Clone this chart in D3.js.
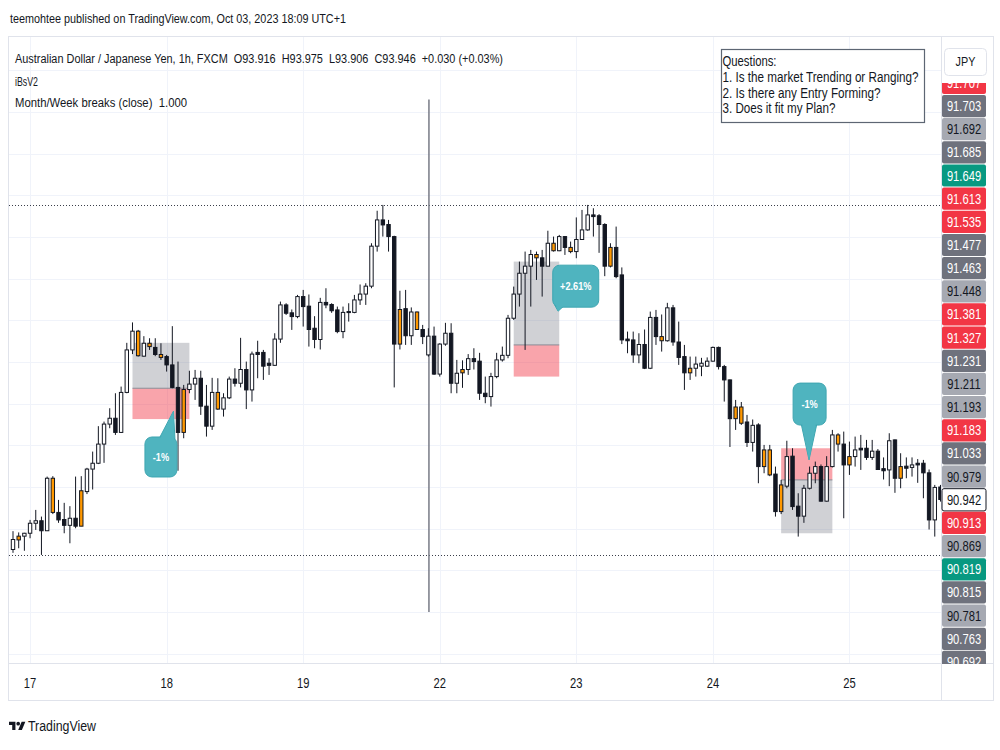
<!DOCTYPE html>
<html>
<head>
<meta charset="utf-8">
<script src="https://cdn.jsdelivr.net/npm/d3@7"></script>
<style>
body { margin: 0; background: #fff; }
svg { display: block; font-family: "Liberation Sans", Arial, sans-serif; }
text { white-space: pre; }
</style>
</head>
<body>
<svg id="chart" width="1000" height="750"></svg>
<script>
// hourly candles, [open, high, low, close]
const ohlc = [
  [90.850, 90.894, 90.842, 90.874], [90.882, 90.891, 90.853, 90.873], [90.882, 90.890, 90.847, 90.889],
  [90.889, 90.921, 90.877, 90.913], [90.913, 90.945, 90.897, 90.919], [90.919, 90.929, 90.837, 90.895],
  [90.895, 91.025, 90.895, 91.021], [91.021, 91.026, 90.935, 90.939], [90.939, 90.969, 90.914, 90.921],
  [90.922, 90.962, 90.889, 90.908], [90.908, 90.954, 90.865, 90.925], [90.925, 91.025, 90.901, 90.906],
  [90.906, 91.026, 90.906, 90.991], [90.989, 91.046, 90.983, 91.043], [91.043, 91.085, 90.994, 91.057],
  [91.057, 91.146, 91.055, 91.103], [91.103, 91.157, 91.058, 91.151], [91.151, 91.189, 91.141, 91.165],
  [91.165, 91.225, 91.125, 91.131], [91.131, 91.241, 91.130, 91.227], [91.227, 91.346, 91.225, 91.329],
  [91.329, 91.395, 91.319, 91.374], [91.374, 91.377, 91.313, 91.315], [91.314, 91.362, 91.313, 91.345],
  [91.345, 91.357, 91.329, 91.337], [91.335, 91.357, 91.314, 91.318], [91.318, 91.345, 91.305, 91.311],
  [91.313, 91.317, 91.277, 91.293], [91.293, 91.386, 91.237, 91.239], [91.239, 91.301, 91.039, 91.131],
  [91.131, 91.245, 91.117, 91.234], [91.234, 91.279, 91.225, 91.247], [91.247, 91.281, 91.209, 91.261],
  [91.261, 91.279, 91.173, 91.194], [91.194, 91.245, 91.121, 91.146], [91.146, 91.262, 91.137, 91.227],
  [91.227, 91.261, 91.185, 91.187], [91.187, 91.225, 91.169, 91.214], [91.214, 91.265, 91.211, 91.259],
  [91.259, 91.285, 91.241, 91.249], [91.249, 91.358, 91.239, 91.282], [91.282, 91.301, 91.187, 91.233],
  [91.233, 91.325, 91.205, 91.319], [91.323, 91.351, 91.261, 91.318], [91.323, 91.329, 91.257, 91.290],
  [91.297, 91.309, 91.269, 91.292], [91.292, 91.369, 91.291, 91.355], [91.355, 91.445, 91.346, 91.437],
  [91.437, 91.441, 91.413, 91.417], [91.418, 91.426, 91.377, 91.409], [91.409, 91.461, 91.405, 91.457],
  [91.457, 91.473, 91.385, 91.433], [91.434, 91.462, 91.337, 91.378], [91.381, 91.410, 91.333, 91.354],
  [91.354, 91.454, 91.330, 91.443], [91.443, 91.477, 91.429, 91.437], [91.438, 91.441, 91.418, 91.423],
  [91.425, 91.433, 91.369, 91.373], [91.373, 91.433, 91.357, 91.419], [91.421, 91.441, 91.397, 91.419],
  [91.419, 91.461, 91.417, 91.449], [91.449, 91.486, 91.437, 91.463], [91.463, 91.489, 91.437, 91.482],
  [91.482, 91.585, 91.477, 91.578], [91.578, 91.663, 91.565, 91.641], [91.641, 91.677, 91.601, 91.629],
  [91.630, 91.641, 91.565, 91.601], [91.601, 91.603, 91.239, 91.343], [91.343, 91.471, 91.330, 91.426],
  [91.428, 91.473, 91.341, 91.363], [91.363, 91.431, 91.341, 91.420], [91.420, 91.421, 91.377, 91.378],
  [91.378, 91.389, 91.343, 91.361], [91.317, 91.381, 91.313, 91.362], [91.362, 91.385, 91.269, 91.271],
  [91.271, 91.345, 91.265, 91.343], [91.343, 91.394, 91.339, 91.369], [91.369, 91.393, 91.225, 91.249],
  [91.249, 91.305, 91.225, 91.273], [91.274, 91.304, 91.238, 91.282], [91.282, 91.319, 91.269, 91.308],
  [91.308, 91.333, 91.282, 91.301], [91.302, 91.322, 91.209, 91.225], [91.225, 91.265, 91.201, 91.217],
  [91.217, 91.274, 91.193, 91.265], [91.265, 91.322, 91.261, 91.305], [91.305, 91.337, 91.301, 91.316],
  [91.316, 91.413, 91.309, 91.405], [91.405, 91.481, 91.401, 91.463], [91.463, 91.541, 91.433, 91.513],
  [91.513, 91.565, 91.329, 91.530], [91.530, 91.569, 91.433, 91.558], [91.558, 91.565, 91.497, 91.550],
  [91.550, 91.569, 91.457, 91.530], [91.530, 91.615, 91.530, 91.585], [91.585, 91.601, 91.565, 91.567],
  [91.567, 91.605, 91.566, 91.601], [91.601, 91.602, 91.557, 91.575], [91.575, 91.589, 91.561, 91.565],
  [91.565, 91.647, 91.549, 91.594], [91.594, 91.665, 91.593, 91.617], [91.617, 91.677, 91.615, 91.653],
  [91.653, 91.669, 91.601, 91.649], [91.651, 91.655, 91.562, 91.630], [91.630, 91.633, 91.506, 91.530],
  [91.530, 91.585, 91.527, 91.575], [91.575, 91.625, 91.501, 91.505], [91.509, 91.527, 91.343, 91.353],
  [91.355, 91.373, 91.321, 91.351], [91.353, 91.373, 91.298, 91.317], [91.317, 91.369, 91.297, 91.342],
  [91.342, 91.378, 91.283, 91.285], [91.285, 91.421, 91.283, 91.407], [91.407, 91.425, 91.341, 91.361],
  [91.361, 91.414, 91.325, 91.351], [91.351, 91.442, 91.349, 91.430], [91.430, 91.437, 91.339, 91.348],
  [91.348, 91.397, 91.293, 91.311], [91.313, 91.341, 91.233, 91.274], [91.274, 91.313, 91.257, 91.285],
  [91.285, 91.313, 91.265, 91.295], [91.290, 91.310, 91.266, 91.297], [91.290, 91.311, 91.288, 91.302],
  [91.302, 91.337, 91.301, 91.335], [91.335, 91.337, 91.282, 91.289], [91.289, 91.293, 91.205, 91.257],
  [91.257, 91.258, 91.096, 91.164], [91.164, 91.209, 91.137, 91.192], [91.192, 91.204, 91.149, 91.153],
  [91.156, 91.173, 91.096, 91.107], [91.107, 91.162, 91.085, 91.148], [91.149, 91.153, 91.009, 91.049],
  [91.049, 91.101, 91.033, 91.089], [91.089, 91.101, 91.026, 91.029], [91.031, 91.049, 90.929, 90.941],
  [90.941, 91.017, 90.935, 91.005], [91.002, 91.111, 90.997, 91.073], [91.074, 91.093, 90.945, 90.953],
  [90.954, 90.985, 90.881, 90.930], [90.930, 91.005, 90.914, 90.997], [90.997, 91.049, 90.994, 91.033],
  [91.033, 91.061, 91.009, 91.049], [91.049, 91.054, 90.965, 90.966], [90.966, 91.074, 90.965, 91.049],
  [91.049, 91.137, 91.047, 91.125], [91.125, 91.129, 91.085, 91.103], [91.103, 91.133, 90.925, 91.053],
  [91.053, 91.109, 91.029, 91.073], [91.073, 91.121, 91.049, 91.089], [91.093, 91.125, 91.041, 91.089],
  [91.093, 91.113, 91.065, 91.071], [91.071, 91.113, 91.065, 91.086], [91.086, 91.091, 91.041, 91.042],
  [91.044, 91.071, 91.018, 91.039], [91.041, 91.129, 91.002, 91.111], [91.113, 91.114, 90.986, 91.021],
  [91.021, 91.081, 90.997, 91.049], [91.050, 91.071, 91.021, 91.045], [91.047, 91.071, 91.025, 91.053],
  [91.057, 91.067, 91.010, 91.053], [91.057, 91.065, 90.973, 91.034], [91.034, 91.042, 90.898, 90.921],
  [90.921, 91.005, 90.881, 90.999], [91.000, 91.005, 90.965, 90.970]
];

// bars flagged by iBsV2 (orange)
const insideBars = [1, 7, 12, 22, 24, 26, 30, 36, 68, 71, 79, 92, 95, 98, 105, 114, 119, 127, 128, 132, 133, 135, 145, 147, 156];

// day ticks (bar index) and their labels
const dayTicks = [3, 27, 51, 75, 99, 123, 147];
const dayLabels = ["17", "18", "19", "22", "23", "24", "25"];

// week break
const weekBreakIndex = 73.1;
const weekBreakRange = [90.70, 91.93];
const breakLevels = [91.677, 90.837];

// position tools: start bar, end bar, top, entry, bottom
const posStart = [21, 88, 135];
const posEnd = [31, 96, 144];
const posTop = [91.346, 91.541, 91.093];
const posEntry = [91.237, 91.341, 91.017];
const posBottom = [91.163, 91.265, 90.889];
const posSide = ["long", "long", "short"];

// callouts
const calloutText = ["-1%", "+2.61%", "-1%"];
const calloutAt = [[26.0, 91.072], [98.9, 91.482], [140.0, 91.199]];
const calloutTip = [[28.2, 91.182], [95.8, 91.422], [139.9, 91.065]];

// price scale labels (stacked)
const axisValues = ["91.707", "91.703", "91.692", "91.685", "91.649", "91.613", "91.535", "91.477", "91.463",
  "91.448", "91.381", "91.327", "91.231", "91.211", "91.193", "91.183", "91.033", "90.979", "90.942",
  "90.913", "90.869", "90.819", "90.815", "90.781", "90.763", "90.692"];
const axisKinds = ["r", "d", "l", "d", "g", "r", "r", "d", "d", "l", "r", "r", "d", "l", "l", "r", "d", "l", "w",
  "r", "l", "g", "d", "l", "d", "d"];

const questions = ["Questions:", "1. Is the market Trending or Ranging?", "2. Is there any Entry Forming?", "3. Does it fit my Plan?"];

// ---------------------------------------------------------------
const svg = d3.select("#chart");
const ink = "#131722";
const plot = { left: 9, right: 941, top: 37, bottom: 663 };

const x = d3.scaleLinear().domain([0, ohlc.length - 1]).range([13, 13 + 5.69 * (ohlc.length - 1)]);
const y = d3.scaleLinear().domain([91, 92]).range([487, 70.33]);

const defs = svg.append("defs");
defs.append("clipPath").attr("id", "plotClip")
  .append("rect").attr("x", plot.left).attr("y", plot.top)
  .attr("width", plot.right - plot.left).attr("height", plot.bottom - plot.top);
defs.append("clipPath").attr("id", "labelClip")
  .append("rect").attr("x", 941).attr("y", 83).attr("width", 52).attr("height", 581);

function squeezed(g, px, py, str, size, anchor, fill, weight) {
  return g.append("text")
    .attr("transform", `translate(${px},${py}) scale(0.8,1)`)
    .attr("text-anchor", anchor || "start")
    .attr("font-size", size)
    .attr("font-weight", weight || "normal")
    .attr("fill", fill || ink)
    .text(str);
}

function fitted(g, px, py, str, size, len) {
  return g.append("text")
    .attr("x", px).attr("y", py)
    .attr("font-size", size)
    .attr("fill", ink)
    .attr("textLength", len)
    .attr("lengthAdjust", "spacingAndGlyphs")
    .text(str);
}

// header
fitted(svg, 10, 23, "teemohtee published on TradingView.com, Oct 03, 2023 18:09 UTC+1", 13.5, 336);

// frame
svg.append("rect").attr("x", 8.5).attr("y", 36.5).attr("width", 985).attr("height", 664)
  .attr("fill", "#fff").attr("stroke", "#e0e3eb");

// grid
const grid = svg.append("g").attr("clip-path", "url(#plotClip)");
grid.selectAll(".hg").data(d3.range(90.6, 92.05, 0.1)).enter().append("line")
  .attr("x1", plot.left).attr("x2", plot.right)
  .attr("y1", d => Math.round(y(d)) + 0.5).attr("y2", d => Math.round(y(d)) + 0.5)
  .attr("stroke", "#f0f3fa");
grid.selectAll(".vg").data(dayTicks).enter().append("line")
  .attr("x1", d => Math.round(x(d)) + 0.5).attr("x2", d => Math.round(x(d)) + 0.5)
  .attr("y1", plot.top).attr("y2", plot.bottom)
  .attr("stroke", "#f0f3fa");

// axis separators
svg.append("line").attr("x1", plot.right + 0.5).attr("x2", plot.right + 0.5)
  .attr("y1", 37).attr("y2", 700).attr("stroke", "#e0e3eb");
svg.append("line").attr("x1", 9).attr("x2", 993)
  .attr("y1", plot.bottom + 0.5).attr("y2", plot.bottom + 0.5).attr("stroke", "#e0e3eb");

const chart = svg.append("g").attr("clip-path", "url(#plotClip)");

// position tools
const grayFill = "rgba(120,123,134,0.35)", redFill = "rgba(242,54,69,0.45)";
posStart.forEach((s, k) => {
  const x0 = x(s), x1 = x(posEnd[k]);
  const upper = posSide[k] === "long" ? grayFill : redFill;
  const lower = posSide[k] === "long" ? redFill : grayFill;
  chart.append("rect").attr("x", x0).attr("width", x1 - x0)
    .attr("y", y(posTop[k])).attr("height", y(posEntry[k]) - y(posTop[k])).attr("fill", upper);
  chart.append("rect").attr("x", x0).attr("width", x1 - x0)
    .attr("y", y(posEntry[k])).attr("height", y(posBottom[k]) - y(posEntry[k])).attr("fill", lower);
  chart.append("line").attr("x1", x0).attr("x2", x1)
    .attr("y1", y(posEntry[k])).attr("y2", y(posEntry[k]))
    .attr("stroke", "#8a8d96").attr("stroke-width", 1);
});

// week high / low dotted lines
chart.selectAll(".lvl").data(breakLevels).enter().append("line")
  .attr("x1", plot.left).attr("x2", plot.right)
  .attr("y1", d => Math.round(y(d)) + 0.5).attr("y2", d => Math.round(y(d)) + 0.5)
  .attr("stroke", "#3a3e4a").attr("stroke-dasharray", "1,2");

// week break line
chart.append("line")
  .attr("x1", x(weekBreakIndex)).attr("x2", x(weekBreakIndex))
  .attr("y1", y(weekBreakRange[1])).attr("y2", y(weekBreakRange[0]))
  .attr("stroke", "#787b86").attr("stroke-width", 1.5);

// candles
const bars = chart.selectAll(".bar").data(ohlc).enter().append("g");
bars.append("line")
  .attr("x1", (d, i) => x(i)).attr("x2", (d, i) => x(i))
  .attr("y1", d => y(d[1])).attr("y2", d => y(d[2]))
  .attr("stroke", ink).attr("stroke-width", 1);
bars.append("rect")
  .attr("x", (d, i) => x(i) - 1.7)
  .attr("width", 3.4)
  .attr("y", d => y(Math.max(d[0], d[3])))
  .attr("height", d => Math.max(1, Math.abs(y(d[0]) - y(d[3]))))
  .attr("fill", (d, i) => insideBars.includes(i) ? "#ff9800" : (d[3] >= d[0] ? "#ffffff" : ink))
  .attr("stroke", ink).attr("stroke-width", 1);

// callouts
const bubbleSize = [[32, 40], [46, 42], [33, 42]];
const tailWidth = [16, 10, 16];
calloutText.forEach((t, k) => {
  const cx = x(calloutAt[k][0]), cy = y(calloutAt[k][1]);
  const w = bubbleSize[k][0], h = bubbleSize[k][1];
  const left = cx - w / 2, top = cy - h / 2;
  const tx = x(calloutTip[k][0]), ty = y(calloutTip[k][1]);
  const tw = tailWidth[k];
  const bx = Math.max(left + tw / 2 + 2, Math.min(left + w - tw / 2 - 2, tx));
  const by = ty < top ? top + 2 : top + h - 2;
  const g = chart.append("g");
  g.append("path")
    .attr("d", `M${bx - tw / 2},${by} L${tx},${ty} L${bx + tw / 2},${by} Z`)
    .attr("fill", "#4fb4bf").attr("stroke", "#3ea6b1").attr("stroke-width", 1);
  g.append("rect").attr("x", left).attr("y", top).attr("width", w).attr("height", h)
    .attr("rx", 7).attr("fill", "#4fb4bf").attr("stroke", "#3ea6b1").attr("stroke-width", 1);
  g.append("path")
    .attr("d", `M${bx - tw / 2 + 1},${by} L${tx},${ty} L${bx + tw / 2 - 1},${by} Z`)
    .attr("fill", "#4fb4bf");
  squeezed(g, cx, cy + 4, t, 11.5, "middle", "#ffffff", "bold");
});

// legend
fitted(svg, 15, 62.5, "Australian Dollar / Japanese Yen, 1h, FXCM  O93.916  H93.975  L93.906  C93.946  +0.030 (+0.03%)", 12.5, 488);
fitted(svg, 15, 85.5, "iBsV2", 12.5, 23);
fitted(svg, 15, 107, "Month/Week breaks (close)  1.000", 12.5, 172);

// questions box
svg.append("rect").attr("x", 721.5).attr("y", 49.5).attr("width", 203).attr("height", 73)
  .attr("fill", "#fff").attr("stroke", "#5d6673").attr("stroke-width", 1.2);
const qLen = [54, 196, 158, 113];
questions.forEach((q, k) => fitted(svg, 722.5, 66 + k * 15.8, q, 14, qLen[k]));

// JPY button
svg.append("rect").attr("x", 944.5).attr("y", 48.5).attr("width", 42).attr("height", 27).attr("rx", 4)
  .attr("fill", "#fff").attr("stroke", "#e0e3eb");
squeezed(svg, 965.5, 66, "JPY", 13.5, "middle");

// stacked price labels
const band = d3.scaleBand().domain(d3.range(axisValues.length)).range([70.8, 70.8 + 23.2 * axisValues.length]).padding(0.04);
const kindFill = { r: "#f23645", g: "#089981", d: "#6f727d", l: "#a6a9b2", w: "#ffffff" };
const kindText = { r: "#ffffff", g: "#ffffff", d: "#ffffff", l: ink, w: ink };
const labels = svg.append("g").attr("clip-path", "url(#labelClip)");
axisValues.forEach((v, k) => {
  const ky = axisKinds[k];
  labels.append("rect").attr("x", 942).attr("y", band(k)).attr("width", 44).attr("height", band.bandwidth())
    .attr("rx", 2).attr("fill", kindFill[ky])
    .attr("stroke", ky === "w" ? ink : "none").attr("stroke-width", 1);
  squeezed(labels, 964, band(k) + band.bandwidth() / 2 + 5, v, 14, "middle", kindText[ky]);
});

// time axis labels
dayTicks.forEach((t, k) => squeezed(svg, x(t), 688, dayLabels[k], 14, "middle"));

// TradingView logo
const logo = svg.append("g").attr("transform", "translate(9,720) scale(0.46)");
logo.append("path").attr("d", "M14 22H7V11H0V4h14v18zM28 22h-8l7.5-18h8L28 22z").attr("fill", ink);
logo.append("circle").attr("cx", 20).attr("cy", 8).attr("r", 4).attr("fill", ink);
fitted(svg, 28, 731, "TradingView", 14, 68);
</script>
</body>
</html>
